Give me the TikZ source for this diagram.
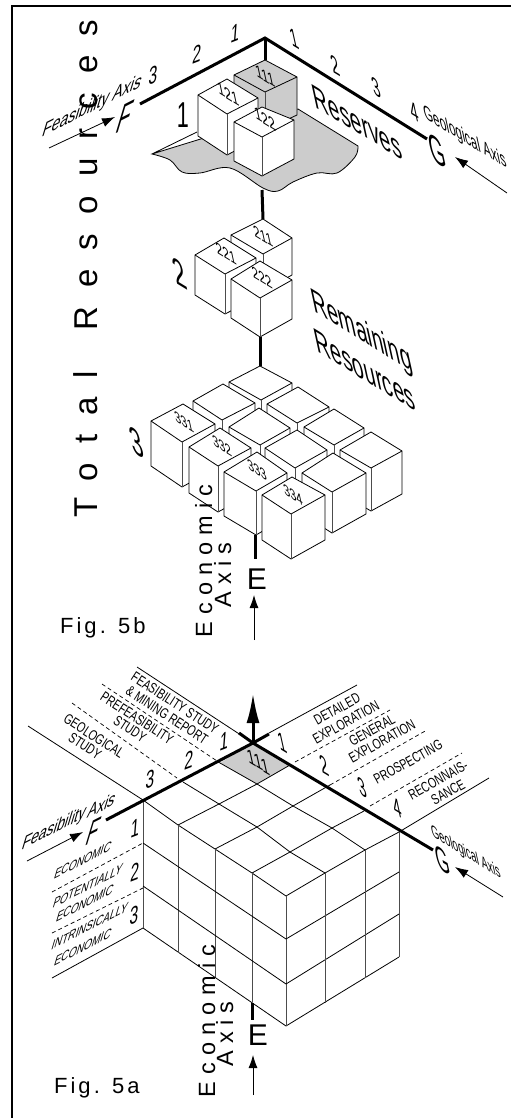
\documentclass[tikz,border=0pt]{standalone}
\usepackage{fontspec}
\usetikzlibrary{arrows.meta}
\setmainfont{Liberation Sans}
\newfontfamily\cnd[FakeStretch=0.6]{Liberation Sans}
\newcommand\fz[1]{\fontsize{#1}{#1}\selectfont}
\definecolor{plategray}{gray}{0.8}
\definecolor{vertgray}{gray}{0.3}
\tikzset{
  thin line/.style={line width=0.8pt,line join=miter},
  vert line/.style={line width=1pt,draw=vertgray},
  thick axis/.style={line width=3pt},
  dashline/.style={line width=0.7pt,dash pattern=on 4pt off 3pt},
  flow/.style={line width=0.8pt,-{Latex[length=13pt,width=9pt]}},
  lab/.style={inner sep=0pt,outer sep=0pt,font=\cnd},
  dnT/.style={lab,xslant=-.22,yslant=-.7,transform shape},
  upT/.style={lab,xslant=.3,yslant=.6,transform shape},
  numT/.style={lab,xslant=.08,yslant=.4,transform shape},
  dnCaps/.style={lab,rotate=-33,xscale=1.2,transform shape},
  upCaps/.style={lab,rotate=29,xscale=1.2,transform shape},
  plain/.style={inner sep=0pt,outer sep=0pt},
}
\newcommand\cubebox[6][white]{%
  \coordinate (t) at (#2);\coordinate (l) at (#3);\coordinate (r) at (#4);\coordinate (f) at (#5);
  \filldraw[thin line,fill=#1] (l) -- (t) -- (r) -- ([yshift=-#6pt]r) -- ([yshift=-#6pt]f) -- ([yshift=-#6pt]l) -- cycle;
  \draw[thin line] (l) -- (f) -- (r);
  \draw[vert line] (f) -- ([yshift=-#6pt]f);
}
\begin{document}
\begin{tikzpicture}[x=1pt,y=-1pt]
\useasboundingbox (0,0) rectangle (511,1118);
% frame
\draw[line width=2pt] (12,1118) -- (12,6) -- (511,6);

% ===== Fig 5b =====
\node[plain,rotate=90,anchor=base west,font=\fz{33}\addfontfeature{LetterSpace=58}] (total) at (97,517) {Total\hspace{12pt} Resources};
\coordinate (apexB) at (265,38);
\coordinate (fB) at (140,104);
\coordinate (gB) at (427,139);
% plate
\filldraw[thin line,fill=plategray] (197,132) -- (152,154) plot[smooth,tension=.6] coordinates {(152,154) (170,160) (182,172) (200,173) (230,168) (263,188) (278,191) (293,182) (317,173) (337,173) (355,157) (358,146)} -- (298,109) -- cycle;
\draw[thick axis] (fB) -- (apexB) -- (gB);
\draw[thick axis] (apexB) -- (265,60);
\cubebox[plategray]{265,60}{234,75}{297,77}{265,92}{38}
\cubebox{227,79}{198,95}{258,98}{227,114}{41}
\cubebox{262,107}{234,122}{294,120}{262,137}{39}
\coordinate (plateB) at (262,190);
\coordinate (c211) at (263,219);
\draw[thick axis] (plateB) -- (c211);
\cubebox{263,219}{231,235}{292,238}{263,254}{37}
\cubebox{224,238}{195,255}{256,258}{225,274}{40}
\cubebox{260,261}{231,279}{292,280}{260,298}{39}
\coordinate (c222b) at (260,337);
\coordinate (c3t) at (260,366);
\draw[thick axis] (c222b) -- (c3t);
% layer 3
\cubebox{260,366}{229,382}{292,383}{261,400}{42}
\cubebox{223,384}{193,401}{255,403}{222,420}{42}
\cubebox{298,387}{267,404}{329,407}{297,423}{42}
\cubebox{183,404}{151,421}{215,424}{182,442}{45}
\cubebox{259,408}{229,427}{290,428}{260,445}{42}
\cubebox{334,409}{304,427}{364,428}{334,445}{42}
\cubebox{220,428}{189,447}{251,448}{218,466}{46}
\cubebox{297,430}{265,448}{327,450}{295,468}{42}
\cubebox{371,432}{340,450}{402,451}{371,468}{43}
\cubebox{257,452}{224,472}{287,473}{256,491}{44}
\cubebox{333,453}{302,473}{366,473}{332,492}{41}
\cubebox{292,477}{262,495}{325,495}{291,514}{45}
\coordinate (eB1) at (255,535);
\coordinate (eB2) at (255,559);
\draw[thick axis] (eB1) -- (eB2);
% texts 5b
\node[dnT,font=\cnd\fz{18}] (n111) at (265,76) {111};
\node[dnT,font=\cnd\fz{18}] (n121) at (228,94) {121};
\node[dnT,font=\cnd\fz{18}] (n122) at (265,119) {122};
\node[dnT,font=\cnd\fz{17}] (n211) at (263,236) {211};
\node[dnT,font=\cnd\fz{17}] (n221) at (226,254) {221};
\node[dnT,font=\cnd\fz{17}] (n222) at (262,278) {222};
\node[dnT,font=\cnd\fz{16}] (n331) at (184,422) {331};
\node[dnT,font=\cnd\fz{16}] (n332) at (222,446) {332};
\node[dnT,font=\cnd\fz{16}] (n333) at (257,470) {333};
\node[dnT,font=\cnd\fz{16}] (n334) at (293,495) {334};
\node[numT,font=\cnd\fz{25}] at (235,33) {1};
\node[numT,font=\cnd\fz{25}] at (197,54) {2};
\node[numT,font=\cnd\fz{25}] at (153,75) {3};
\node[dnT,xscale=.75,font=\cnd\fz{27}] at (294,39) {1};
\node[dnT,xscale=.75,font=\cnd\fz{27}] at (335,65) {2};
\node[dnT,xscale=.75,font=\cnd\fz{27}] at (376,88) {3};
\node[dnT,xscale=.75,font=\cnd\fz{27}] at (414,112) {4};
\node[dnT,xscale=.86,font=\cnd\fz{35}] at (357,122) {Reserves};
\node[dnT,xscale=.86,font=\cnd\fz{35}] at (362,333) {Remaining};
\node[dnT,xscale=.86,font=\cnd\fz{35}] at (365,370) {Resources};
\node[lab,font=\cnd\fz{36}] at (183,115) {1};
\node[dnT,xscale=.8,font=\cnd\fz{40}] at (180,273) {2};
\node[dnT,xscale=.8,font=\cnd\fz{40}] at (137,442) {3};
\node[upT,font=\cnd\fz{21}] (feasB) at (92,107) {Feasibility Axis};
\node[dnT,xscale=.82,font=\cnd\fz{21}] (geoB) at (465,138) {Geological Axis};
\node[upT,xscale=.7,font=\cnd\fz{42}] (Fb) at (125,117) {F};
\node[dnT,xscale=.7,font=\cnd\fz{42}] (Gb) at (437,151) {G};
\node[plain,font=\fz{30}] (Eb) at (257,579) {E};
\coordinate (fa1) at (49,148);\coordinate (fa2) at (115,117);
\coordinate (ga1) at (507,193);\coordinate (ga2) at (455,157);
\coordinate (ea1) at (254,640);\coordinate (ea2) at (254,595);
\draw[flow] (fa1) -- (fa2);
\draw[flow] (ga1) -- (ga2);
\draw[flow] (ea1) -- (ea2);
\node[plain,rotate=90,anchor=base west,font=\fz{23.5}\addfontfeature{LetterSpace=30}] at (212,637) {Economic};
\node[plain,rotate=90,anchor=base west,font=\fz{23.5}\addfontfeature{LetterSpace=28}] at (231,607) {Axis};
\node[plain,anchor=base west,font=\fz{22}\addfontfeature{LetterSpace=14}] at (60,633) {Fig. 5b};

% ===== Fig 5a =====
\coordinate (A) at (253,743);
\fill[plategray] (A) -- (220,763) -- (257,784) -- (290,765) -- cycle;
% label lines
\draw[thin line] (137,667) -- (A);
\draw[dashline] (102,684) -- (220,763);
\draw[dashline] (72,703) -- (177,778);
\draw[thin line] (28,726) -- (143,800);
\draw[thin line] (269,733) -- (357,685);
\draw[dashline] (295,762) -- (390,710);
\draw[dashline] (330,785) -- (427,730);
\draw[dashline] (370,806) -- (462,753);
\draw[thin line] (399,832) -- (489,778);
\draw[dashline] (52,892) -- (143,843);
\draw[dashline] (52,933) -- (143,888);
\draw[thin line] (52,978) -- (143,928);
% top grid
\draw[thin line] (220,763) -- (257,784) -- (293,806) -- (332,828) -- (365,850);
\draw[thin line] (183,782) -- (219,804) -- (257,827) -- (290,852) -- (325,873);
\draw[thin line] (143,800) -- (178,825) -- (215,849) -- (252,873) -- (286,896);
\draw[thin line] (290,765) -- (257,784) -- (219,804) -- (178,825);
\draw[thin line] (330,785) -- (293,806) -- (257,827) -- (215,849);
\draw[thin line] (364,811) -- (332,828) -- (290,852) -- (252,873);
\draw[thin line] (399,832) -- (365,850) -- (325,873) -- (286,896);
% faces
\draw[thin line] (143,928) -- (286,1026) -- (399,957);
\draw[vert line] (143,800) -- (143,928);
\draw[vert line] (399,832) -- (399,957);
\draw[vert line] (178,825) -- (178,953);
\draw[vert line] (215,849) -- (215,977);
\draw[vert line] (252,873) -- (252,1002);
\draw[vert line] (286,896) -- (286,1026);
\draw[thin line] (143,843) -- (286,939) -- (399,872);
\draw[thin line] (143,886) -- (286,984) -- (399,914);
\draw[vert line] (325,873) -- (325,1003);
\draw[vert line] (365,850) -- (365,978);
% axes
\coordinate (fA) at (106,820);
\coordinate (gA) at (433,850);
\draw[thick axis] (fA) -- (A) -- (gA);
\coordinate (bl) at (239,733);\coordinate (br) at (269,734);
\draw[thick axis] (bl) -- (A) -- (br);
\coordinate (up) at (253,693);
\draw[line width=3pt,-{Latex[length=30pt,width=13pt]}] (A) -- (up);
\coordinate (eA1) at (252,1003);\coordinate (eA2) at (252,1020);
\draw[thick axis] (eA1) -- (eA2);
% texts 5a
\node[dnT,font=\cnd\fz{21}] at (258,762) {111};
\node[numT,font=\cnd\fz{25}] at (224,741) {1};
\node[numT,font=\cnd\fz{25}] at (189,760) {2};
\node[numT,font=\cnd\fz{25}] at (150,779) {3};
\node[dnT,xscale=.75,font=\cnd\fz{27}] at (282,743) {1};
\node[dnT,xscale=.75,font=\cnd\fz{27}] at (324,765) {2};
\node[dnT,xscale=.75,font=\cnd\fz{27}] at (362,788) {3};
\node[dnT,xscale=.75,font=\cnd\fz{27}] at (397,808) {4};
\node[dnCaps,font=\cnd\fz{14.5}] at (175,703) {FEASIBILITY STUDY};
\node[dnCaps,font=\cnd\fz{14.5}] at (167,715) {\& MINING REPORT};
\node[dnCaps,font=\cnd\fz{14.5}] at (137,718) {PREFEASIBILITY};
\node[dnCaps,font=\cnd\fz{14.5}] at (130,729) {STUDY};
\node[dnCaps,font=\cnd\fz{14.5}] at (94,736) {GEOLOGICAL};
\node[dnCaps,font=\cnd\fz{14.5}] at (85,746) {STUDY};
\node[upCaps,font=\cnd\fz{14.5}] at (337,709) {DETAILED};
\node[upCaps,font=\cnd\fz{14.5}] at (346,722) {EXPLORATION};
\node[upCaps,font=\cnd\fz{14.5}] at (372,730) {GENERAL};
\node[upCaps,font=\cnd\fz{14.5}] at (382,741) {EXPLORATION};
\node[upCaps,font=\cnd\fz{14.5}] at (408,762) {PROSPECTING};
\node[upCaps,font=\cnd\fz{14.5}] at (438,780) {RECONNAIS-};
\node[upCaps,font=\cnd\fz{14.5}] at (448,792) {SANCE};
\node[upT,font=\cnd\fz{14.5}] at (83,860) {ECONOMIC};
\node[upT,font=\cnd\fz{14.5}] at (88,886) {POTENTIALLY};
\node[upT,font=\cnd\fz{14.5}] at (85,903) {ECONOMIC};
\node[upT,font=\cnd\fz{14.5}] at (90,926) {INTRINSICALLY};
\node[upT,font=\cnd\fz{14.5}] at (83,947) {ECONOMIC};
\node[numT,font=\cnd\fz{25}] at (135,828) {1};
\node[numT,font=\cnd\fz{25}] at (135,872) {2};
\node[numT,font=\cnd\fz{25}] at (134,915) {3};
\node[upT,font=\cnd\fz{20}] (feasA) at (54,829) {Feasibility};
\node[upT,font=\cnd\fz{20}] (axisA) at (102,805) {Axis};
\node[upT,xscale=.7,font=\cnd\fz{36}] (Fa) at (94,831) {F};
\node[dnT,xscale=.7,font=\cnd\fz{36}] (Ga) at (443,860) {G};
\node[dnT,xscale=.8,font=\cnd\fz{18}] (geoA) at (466,853) {Geological Axis};
\node[plain,font=\fz{30}] (Ea) at (258,1035) {E};
\coordinate (fb1) at (27,861);\coordinate (fb2) at (83,832);
\coordinate (gb1) at (503,897);\coordinate (gb2) at (455,867);
\coordinate (eb1) at (253,1095);\coordinate (eb2) at (253,1055);
\draw[flow] (fb1) -- (fb2);
\draw[flow] (gb1) -- (gb2);
\draw[flow] (eb1) -- (eb2);
\node[plain,rotate=90,anchor=base west,font=\fz{23.5}\addfontfeature{LetterSpace=30}] at (215,1097) {Economic};
\node[plain,rotate=90,anchor=base west,font=\fz{23.5}\addfontfeature{LetterSpace=28}] at (233,1066) {Axis};
\node[plain,anchor=base west,font=\fz{22}\addfontfeature{LetterSpace=14}] at (54,1093) {Fig. 5a};
\end{tikzpicture}
\end{document}
